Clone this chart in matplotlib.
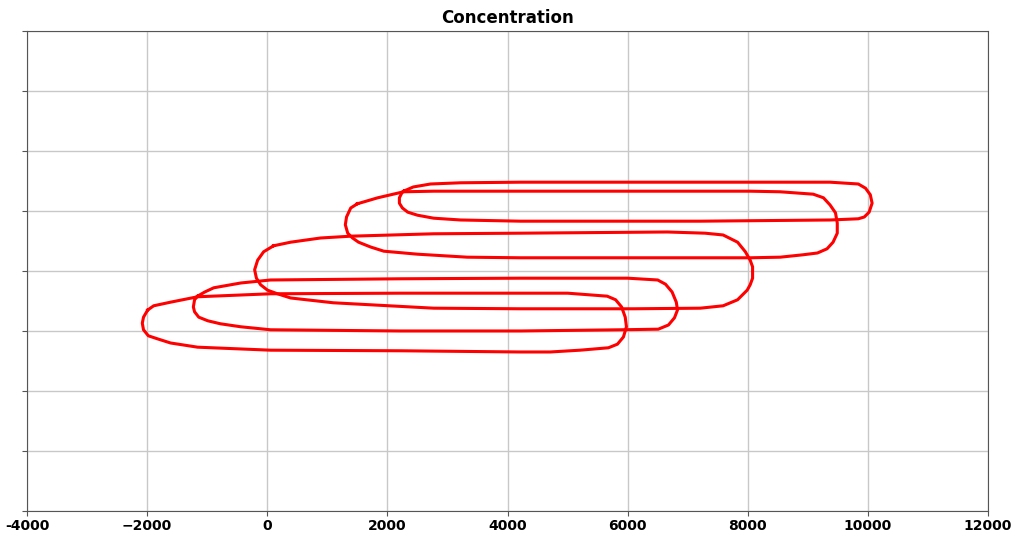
import matplotlib.pyplot as plt

# Contour outlines (x in plot units, y on a hidden scale)
loop_a_x = [2270, 2430, 2720, 3220, 4220, 7210, 9370, 9840, 9960, 10040, 10070, 10020,
            9940, 9840, 9370, 7210, 4220, 3220, 2770, 2500, 2340, 2250, 2200, 2200, 2240]
loop_a_y = [133, 140, 145, 147, 148, 148, 148, 145, 138, 127, 113, 98,
            90, 87, 85, 83, 83, 85, 88, 93, 98, 105, 113, 122, 130]

loop_b_x = [1500, 1840, 2270, 2770, 4220, 8040, 8540, 9090, 9260, 9370, 9460, 9490, 9490,
            9420, 9320, 9160, 8920, 8540, 8040, 4220, 3330, 2500, 1940, 1720, 1520, 1420,
            1340, 1300, 1320, 1390]
loop_b_y = [112, 122, 132, 133, 133, 133, 132, 128, 122, 110, 97, 80, 63,
            48, 37, 30, 27, 23, 22, 22, 23, 28, 33, 40, 48, 55,
            63, 77, 90, 105]

loop_c_x = [105, 390, 890, 1390, 2770, 4220, 6660, 7290, 7590, 7830, 7960, 8040, 8080, 8080,
            8040, 7990, 7830, 7590, 7210, 6100, 4220, 2770, 1100, 390, 170, 5, -110, -180,
            -210, -160, -60]
loop_c_y = [42, 48, 55, 58, 62, 63, 65, 63, 60, 48, 32, 18, 7, -12,
            -23, -32, -48, -58, -62, -63, -63, -62, -53, -45, -38, -32, -23, -12,
            2, 18, 32]

loop_d_x = [-1160, -1040, -890, -440, 55, 2220, 4220, 6000, 6500, 6630, 6740, 6810, 6830,
            6780, 6680, 6510, 5880, 4220, 2220, 55, -440, -780, -990, -1140, -1210, -1230,
            -1210]
loop_d_y = [-42, -35, -28, -20, -15, -13, -12, -12, -15, -22, -35, -52, -65,
            -78, -90, -97, -98, -100, -100, -98, -93, -88, -83, -77, -68, -60,
            -48]

loop_e_x = [-1990, -1890, -1610, -1160, 55, 2220, 4220, 5000, 5660, 5800, 5900, 5960, 5980,
            5930, 5830, 5680, 5210, 4710, 4220, 2220, 55, -1160, -1610, -1830, -1980, -2060,
            -2080, -2060]
loop_e_y = [-65, -58, -52, -43, -38, -37, -37, -37, -42, -48, -60, -77, -93,
            -110, -122, -128, -132, -135, -135, -133, -132, -127, -120, -113, -108, -98,
            -87, -77]

loops = [(loop_a_x, loop_a_y), (loop_b_x, loop_b_y), (loop_c_x, loop_c_y),
         (loop_d_x, loop_d_y), (loop_e_x, loop_e_y)]

x_ticks = [-4000, -2000, 0, 2000, 4000, 6000, 8000, 10000, 12000]
x_labels = ['-4000', '\u22122000', '0', '2000', '4000', '6000', '8000', '10000', '12000']
y_ticks = [-400, -300, -200, -100, 0, 100, 200, 300, 400]

fig = plt.figure(figsize=(10.14, 5.39), dpi=100)
ax = fig.add_axes([0.0266, 0.052, 0.9478, 0.8905])

for lx, ly in loops:
    ax.plot(lx + lx[:1], ly + ly[:1], color='red', linewidth=2.2,
            solid_joinstyle='round', zorder=3)

ax.set_xlim(-4000, 12000)
ax.set_ylim(-400, 400)
ax.set_xticks(x_ticks)
ax.set_xticklabels(x_labels, fontweight='bold', fontsize=10)
ax.set_yticks(y_ticks)
ax.set_yticklabels([])
ax.grid(True, color='#c8c8c8', linewidth=1.0)
ax.set_axisbelow(True)
for s in ax.spines.values():
    s.set_color('#555555')
ax.tick_params(colors='#555555', labelcolor='black', pad=2)
ax.set_title('Concentration', fontweight='bold', fontsize=12, pad=6)

fig.savefig('out.png', dpi=100)
